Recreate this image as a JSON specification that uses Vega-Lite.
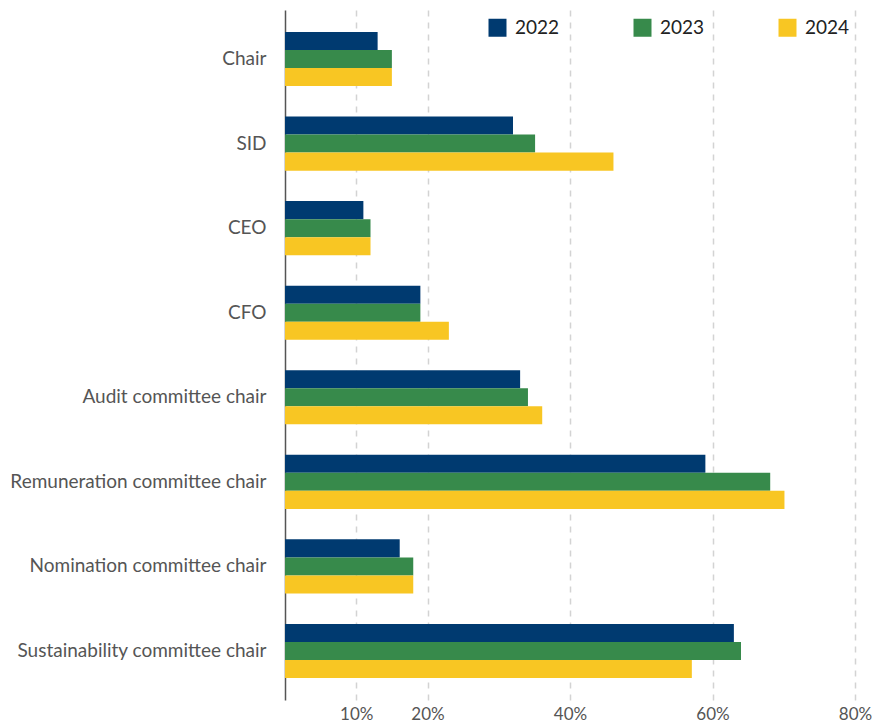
{
  "$schema": "https://vega.github.io/schema/vega-lite/v6.json",
  "width": 570,
  "height": 690,
  "autosize": {"type": "none"},
  "padding": {"left": 285, "top": 10, "right": 33, "bottom": 25},
  "background": "white",
  "config": {"font": "Lato", "view": {"stroke": null}},
  "data": {
    "values": [
      {"role": "Chair", "year": "2022", "value": 13},
      {"role": "Chair", "year": "2023", "value": 15},
      {"role": "Chair", "year": "2024", "value": 15},
      {"role": "SID", "year": "2022", "value": 32},
      {"role": "SID", "year": "2023", "value": 35.1},
      {"role": "SID", "year": "2024", "value": 46.1},
      {"role": "CEO", "year": "2022", "value": 11},
      {"role": "CEO", "year": "2023", "value": 12},
      {"role": "CEO", "year": "2024", "value": 12},
      {"role": "CFO", "year": "2022", "value": 19},
      {"role": "CFO", "year": "2023", "value": 19},
      {"role": "CFO", "year": "2024", "value": 23},
      {"role": "Audit committee chair", "year": "2022", "value": 33},
      {"role": "Audit committee chair", "year": "2023", "value": 34.1},
      {"role": "Audit committee chair", "year": "2024", "value": 36.1},
      {"role": "Remuneration committee chair", "year": "2022", "value": 59},
      {"role": "Remuneration committee chair", "year": "2023", "value": 68.1},
      {"role": "Remuneration committee chair", "year": "2024", "value": 70.1},
      {"role": "Nomination committee chair", "year": "2022", "value": 16.1},
      {"role": "Nomination committee chair", "year": "2023", "value": 18},
      {"role": "Nomination committee chair", "year": "2024", "value": 18},
      {"role": "Sustainability committee chair", "year": "2022", "value": 63},
      {"role": "Sustainability committee chair", "year": "2023", "value": 64},
      {"role": "Sustainability committee chair", "year": "2024", "value": 57.1}
    ]
  },
  "mark": {"type": "bar"},
  "encoding": {
    "y": {
      "field": "role",
      "type": "nominal",
      "sort": ["Chair", "SID", "CEO", "CFO", "Audit committee chair", "Remuneration committee chair", "Nomination committee chair", "Sustainability committee chair"],
      "scale": {"paddingInner": 0.36, "paddingOuter": 0.26},
      "axis": {
        "title": null,
        "domain": true,
        "domainColor": "#555555",
        "domainWidth": 1.5,
        "ticks": false,
        "labelPadding": 19,
        "labelFontSize": 19,
        "labelColor": "#555555",
        "labelLimit": 400
      }
    },
    "yOffset": {
      "field": "year",
      "type": "nominal",
      "scale": {"paddingInner": 0, "paddingOuter": 0}
    },
    "x": {
      "field": "value",
      "type": "quantitative",
      "scale": {"domain": [0, 80], "nice": false},
      "axis": {
        "title": null,
        "values": [10, 20, 40, 60, 80],
        "labelExpr": "datum.value + '%'",
        "labelFlush": false,
        "grid": true,
        "gridDash": [6, 6],
        "gridColor": "#d3d3d3",
        "gridWidth": 1.5,
        "domain": false,
        "ticks": false,
        "labelPadding": 6,
        "labelFontSize": 17,
        "labelColor": "#555555"
      }
    },
    "color": {
      "field": "year",
      "type": "nominal",
      "scale": {"domain": ["2022", "2023", "2024"], "range": ["#003A70", "#378A4B", "#F8C623"]},
      "legend": {
        "title": null,
        "orient": "none",
        "legendX": 203,
        "legendY": 8,
        "direction": "horizontal",
        "symbolType": "square",
        "symbolSize": 324,
        "symbolStrokeWidth": 0,
        "symbolOpacity": 1,
        "labelFontSize": 19,
        "labelColor": "#222222",
        "labelOffset": 8,
        "columnPadding": 73
      }
    }
  }
}
